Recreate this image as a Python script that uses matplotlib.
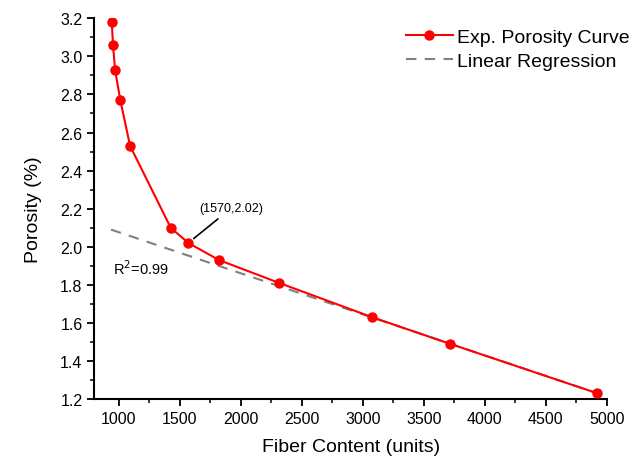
import numpy as np
import matplotlib
matplotlib.use("Agg")
import matplotlib.pyplot as plt
from matplotlib.ticker import MultipleLocator

plt.rcParams['font.family'] = ['Liberation Sans', 'DejaVu Sans']

# experimental porosity curve
fiber = [943, 953, 970, 1013, 1093, 1426, 1570, 1822, 2314, 3076, 3715, 4923]
porosity = [3.18, 3.06, 2.93, 2.77, 2.53, 2.10, 2.02, 1.93, 1.81, 1.63, 1.49, 1.23]

# linear regression line (endpoints)
reg_x = [937, 4923]
reg_y = [2.09, 1.23]

fig = plt.figure(figsize=(6.43, 4.60), dpi=100)
ax = fig.add_axes([0.1467, 0.1304, 0.797, 0.8276])

ax.plot(fiber, porosity, color='red', lw=1.5, marker='o', markersize=6.5,
        label='Exp. Porosity Curve', zorder=3)
ax.plot(reg_x, reg_y, color='gray', lw=1.5, ls=(0, (5, 4)),
        label='Linear Regression', zorder=2)

ax.set_xlim(800, 5000)
ax.set_ylim(1.2, 3.2)
ax.xaxis.set_major_locator(MultipleLocator(500))
ax.xaxis.set_minor_locator(MultipleLocator(250))
ax.yaxis.set_major_locator(MultipleLocator(0.2))
ax.yaxis.set_minor_locator(MultipleLocator(0.1))
ax.yaxis.set_major_formatter(plt.FormatStrFormatter('%.1f'))

for s in ['top', 'right']:
    ax.spines[s].set_visible(False)
for s in ['left', 'bottom']:
    ax.spines[s].set_linewidth(1.5)
ax.tick_params(which='major', direction='out', length=5, width=1.3, labelsize=11.5)
ax.tick_params(which='minor', direction='out', length=3, width=1.1)

ax.set_xlabel('Fiber Content (units)', fontsize=14, labelpad=9)
ax.set_ylabel('Porosity (%)', fontsize=14, labelpad=13)

ax.annotate('(1570,2.02)', xy=(1570, 2.02), xytext=(1920, 2.17),
            fontsize=9, ha='center', va='bottom',
            arrowprops=dict(arrowstyle='-', color='black', lw=1.2,
                            shrinkA=2, shrinkB=5))
ax.text(950, 1.89, 'R$^2$=0.99', fontsize=10.5, ha='left', va='center')

leg = ax.legend(loc='upper right', bbox_to_anchor=(1.078, 1.02), frameon=False,
                fontsize=14, handlelength=2.4, handletextpad=0.2,
                labelspacing=0.35)

fig.savefig('out.png', dpi=100)
